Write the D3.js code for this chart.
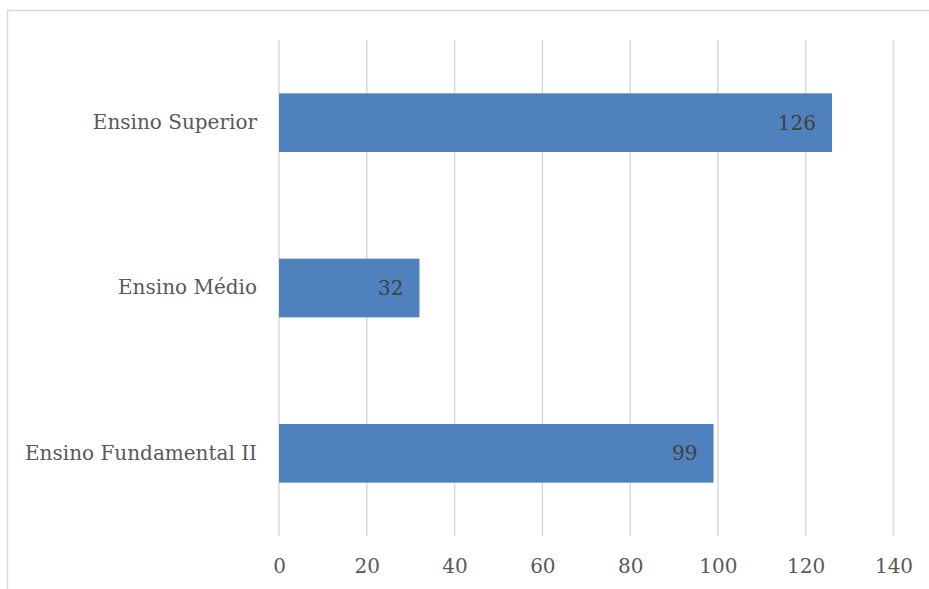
<!DOCTYPE html>
<html>
<head>
<meta charset="utf-8">
<script src="https://cdn.jsdelivr.net/npm/d3@7"></script>
<style>
  html, body { margin: 0; padding: 0; background: #fff; }
  svg { display: block; }
  text { font-family: "DejaVu Serif", serif; }
</style>
</head>
<body>
<svg id="chart" width="929" height="589"></svg>
<script>
// Number of people by level of education
const categories = ["Ensino Superior", "Ensino Médio", "Ensino Fundamental II"];
const values = [126, 32, 99];
const xTicks = [0, 20, 40, 60, 80, 100, 120, 140];

const svg = d3.select("#chart");
const W = 929, H = 589;

// chart frame
svg.append("rect")
  .attr("x", 7.5).attr("y", 10.5)
  .attr("width", W + 10).attr("height", H + 10)
  .attr("fill", "#fff")
  .attr("stroke", "#D9D9D9").attr("stroke-width", 1.5);

const plot = { left: 279, right: 893.5, top: 40, bottom: 536 };

const x = d3.scaleLinear().domain([0, 140]).range([plot.left, plot.right]);
const y = d3.scaleBand().domain(categories).range([plot.top, plot.bottom])
  .paddingInner(0.645).paddingOuter(0.3225);

// vertical gridlines
svg.append("g").selectAll("line")
  .data(xTicks)
  .join("line")
  .attr("x1", d => x(d)).attr("x2", d => x(d))
  .attr("y1", plot.top).attr("y2", plot.bottom)
  .attr("stroke", "#D9D9D9").attr("stroke-width", 1.5);

// x axis labels
const xAxis = d3.axisBottom(x).tickValues(xTicks).tickSize(0).tickPadding(0);
const gx = svg.append("g").attr("transform", `translate(0, ${plot.bottom})`).call(xAxis);
gx.select(".domain").remove();
gx.selectAll("text")
  .attr("y", 30).attr("dy", "0.35em")
  .attr("fill", "#595959")
  .style("font-size", "20px")
  .style("font-family", "DejaVu Serif, serif");

// category labels
const yAxis = d3.axisLeft(y).tickSize(0).tickPadding(22);
const gy = svg.append("g").attr("transform", `translate(${plot.left}, 0)`).call(yAxis);
gy.select(".domain").remove();
gy.selectAll("text")
  .attr("fill", "#595959")
  .style("font-size", "20px")
  .style("font-family", "DejaVu Serif, serif");

// bars
svg.append("g").selectAll("rect")
  .data(categories)
  .join("rect")
  .attr("x", x(0))
  .attr("y", d => y(d))
  .attr("width", (d, i) => x(values[i]) - x(0))
  .attr("height", y.bandwidth())
  .attr("fill", "#4F81BD");

// value labels inside bar ends
svg.append("g").selectAll("text")
  .data(categories)
  .join("text")
  .attr("x", (d, i) => x(values[i]) - 16)
  .attr("y", d => y(d) + y.bandwidth() / 2)
  .attr("dy", "0.35em")
  .attr("text-anchor", "end")
  .attr("fill", "#404040")
  .style("font-size", "20px")
  .text((d, i) => values[i]);
</script>
</body>
</html>
